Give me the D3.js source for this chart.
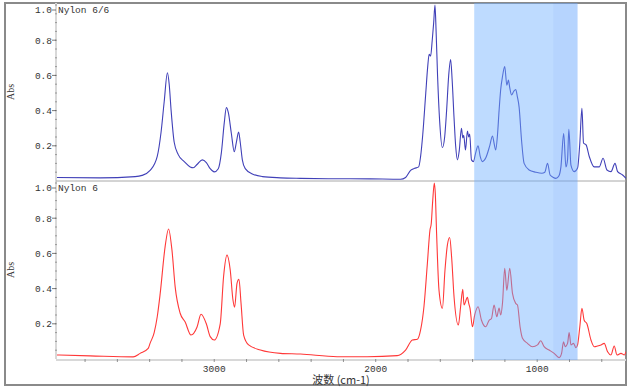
<!DOCTYPE html>
<html lang="en">
<head>
    <meta charset="UTF-8">
    <title>Nylon IR spectra</title>
    <script src="https://d3js.org/d3.v7.min.js"></script>
    <style>
        body { margin: 0; background: #fff; }
        text { font-family: "Liberation Mono", monospace; font-size: 9.5px; fill: #333; }
        .cjk { font-family: "Noto Sans CJK SC", sans-serif; font-size: 11px; }
    </style>
</head>
<body>
    <svg width="632" height="389" id="chart"></svg>
    <script>
        // Nylon 6/6 (top panel) - wavenumber (cm-1) and absorbance
        const nylon66Wave = [3974, 3707, 3490, 3447, 3397, 3353, 3329, 3310, 3290, 3279, 3267, 3248, 3223, 3186, 3149, 3130, 3105, 3074, 3049, 3025,
            3000, 2975, 2956, 2938, 2925, 2913, 2894, 2876, 2863, 2849, 2839, 2826, 2808, 2764, 2702, 2590, 2466, 2280, 2032, 1846,
            1815, 1784, 1759, 1734, 1722, 1709, 1690, 1678, 1669, 1660, 1650, 1641, 1633, 1626, 1617, 1604, 1587, 1573, 1561, 1548,
            1536, 1527, 1515, 1505, 1494, 1483, 1469, 1461, 1455, 1444, 1432, 1424, 1418, 1407, 1395, 1381, 1366, 1353, 1339, 1319,
            1294, 1277, 1266, 1257, 1246, 1236, 1226, 1215, 1201, 1188, 1178, 1170, 1159, 1145, 1133, 1123, 1112, 1097, 1081, 1050,
            1009, 971, 953, 936, 920, 903, 884, 865, 853, 836, 822, 812, 804, 791, 771, 750, 736, 723, 713, 697,
            677, 647, 616, 592, 568, 543, 518, 502, 471, 450];
        const nylon66Abs = [0.02, 0.018, 0.025, 0.032, 0.06, 0.14, 0.28, 0.45, 0.615, 0.55, 0.40, 0.22, 0.15, 0.11, 0.08, 0.075, 0.095, 0.12, 0.105, 0.07,
            0.052, 0.07, 0.16, 0.33, 0.417, 0.39, 0.27, 0.167, 0.22, 0.278, 0.22, 0.12, 0.07, 0.04, 0.025, 0.018, 0.015, 0.013, 0.012, 0.01,
            0.02, 0.06, 0.072, 0.08, 0.14, 0.26, 0.5, 0.65, 0.72, 0.71, 0.8, 0.9, 1.0, 0.85, 0.6, 0.34, 0.19, 0.25, 0.4, 0.6,
            0.69, 0.58, 0.36, 0.2, 0.12, 0.17, 0.30, 0.245, 0.26, 0.176, 0.284, 0.25, 0.267, 0.12, 0.11, 0.16, 0.20, 0.14, 0.11, 0.13,
            0.2, 0.256, 0.21, 0.176, 0.26, 0.40, 0.52, 0.593, 0.65, 0.545, 0.574, 0.53, 0.489, 0.51, 0.52, 0.48, 0.42, 0.233, 0.10, 0.0625,
            0.05, 0.044, 0.05, 0.10, 0.034, 0.022, 0.015, 0.03, 0.08, 0.27, 0.08, 0.12, 0.294, 0.09, 0.053, 0.074, 0.216, 0.413, 0.216, 0.205,
            0.138, 0.08, 0.08, 0.129, 0.0625, 0.053, 0.10, 0.053, 0.034, 0.015];

        // Nylon 6 (bottom panel)
        const nylon6Wave = [3974, 3769, 3502, 3459, 3409, 3397, 3372, 3353, 3335, 3304, 3283, 3262, 3242, 3211, 3180, 3144, 3107, 3082, 3049, 3025,
            3000, 2963, 2942, 2921, 2901, 2884, 2874, 2859, 2847, 2834, 2818, 2787, 2714, 2590, 2466, 2239, 2053, 1867, 1815, 1773,
            1742, 1722, 1701, 1680, 1664, 1656, 1647, 1637, 1631, 1623, 1608, 1587, 1571, 1556, 1542, 1530, 1515, 1488, 1474, 1461,
            1453, 1432, 1424, 1416, 1401, 1387, 1366, 1345, 1319, 1298, 1283, 1267, 1250, 1236, 1226, 1215, 1201, 1188, 1170, 1153,
            1133, 1122, 1106, 1091, 1060, 1029, 998, 978, 957, 926, 895, 864, 849, 837, 827, 812, 802, 791, 775, 760,
            750, 736, 723, 709, 692, 667, 647, 626, 605, 585, 564, 543, 523, 506, 481, 460, 450];
        const nylon6Abs = [0.023, 0.018, 0.012, 0.032, 0.06, 0.09, 0.15, 0.24, 0.37, 0.64, 0.739, 0.62, 0.41, 0.26, 0.21, 0.136, 0.18, 0.254, 0.2, 0.127,
            0.108, 0.2, 0.47, 0.59, 0.506, 0.335, 0.294, 0.43, 0.453, 0.316, 0.136, 0.08, 0.051, 0.032, 0.028, 0.013, 0.013, 0.019, 0.051, 0.108,
            0.112, 0.165, 0.30, 0.544, 0.733, 0.77, 0.9, 1.0, 0.94, 0.714, 0.39, 0.288, 0.506, 0.648, 0.69, 0.58, 0.354, 0.193, 0.30, 0.396,
            0.307, 0.35, 0.316, 0.288, 0.183, 0.25, 0.297, 0.22, 0.183, 0.22, 0.23, 0.307, 0.24, 0.29, 0.25, 0.316, 0.515, 0.39, 0.515, 0.373,
            0.316, 0.307, 0.183, 0.118, 0.089, 0.07, 0.08, 0.104, 0.07, 0.051, 0.032, 0.008, 0.032, 0.098, 0.07, 0.089, 0.15, 0.08, 0.089, 0.064,
            0.08, 0.183, 0.288, 0.22, 0.2, 0.108, 0.07, 0.074, 0.08, 0.089, 0.041, 0.023, 0.074, 0.023, 0.032, 0.023, 0.041];

        const panels = [
            { name: "Nylon 6/6", wave: nylon66Wave, abs: nylon66Abs, color: "#4040b8", top: 3, bottom: 181 },
            { name: "Nylon 6", wave: nylon6Wave, abs: nylon6Abs, color: "#ff3838", top: 181, bottom: 359 }
        ];

        const yTickValues = [0.2, 0.4, 0.6, 0.8, 1.0];
        const xTickValues = [3000, 2000, 1000];
        // highlighted wavenumber ranges
        const bandMain = [1390, 750];
        const bandOverlap = [900, 750];

        const svg = d3.select("#chart");
        const left = 56, right = 626;

        const x = d3.scaleLinear()
            .domain([3980, 450])
            .range([left, right]);

        // outer frame
        svg.append("rect")
            .attr("x", 5).attr("y", 3)
            .attr("width", 621).attr("height", 382)
            .attr("fill", "none")
            .attr("stroke", "#8a8a8a")
            .attr("stroke-width", 2);

        const line = d3.line()
            .x(d => x(d[0]))
            .curve(d3.curveMonotoneX);

        panels.forEach((p, i) => {
            const y = d3.scaleLinear()
                .domain([0, 1])
                .range([p.bottom, p.top + 2]);

            svg.append("clipPath").attr("id", "clip" + i)
                .append("rect")
                .attr("x", left).attr("y", p.top)
                .attr("width", right - left).attr("height", p.bottom - p.top);

            const pts = p.wave.map((w, k) => [w, p.abs[k]]);
            line.y(d => y(d[1]));

            svg.append("path")
                .datum(pts)
                .attr("clip-path", "url(#clip" + i + ")")
                .attr("fill", "none")
                .attr("stroke", p.color)
                .attr("stroke-width", 1.1)
                .attr("d", line);

            // y axis (light gray line with minor ticks)
            svg.append("line")
                .attr("x1", left).attr("x2", left)
                .attr("y1", p.top).attr("y2", p.bottom)
                .attr("stroke", "#d8d8d8").attr("stroke-width", 2);

            const minor = d3.range(0.05, 1.001, 0.05);
            svg.append("g").selectAll("line")
                .data(minor)
                .enter().append("line")
                .attr("x1", left - 1).attr("x2", left + 1)
                .attr("y1", d => y(d)).attr("y2", d => y(d))
                .attr("stroke", "#888").attr("stroke-width", 0.8);

            svg.append("g").selectAll("line")
                .data(yTickValues)
                .enter().append("line")
                .attr("x1", left - 4).attr("x2", left)
                .attr("y1", d => (d === 1 ? p.top + 7 : y(d)))
                .attr("y2", d => (d === 1 ? p.top + 7 : y(d)))
                .attr("stroke", "#555").attr("stroke-width", 0.8);

            svg.append("g").selectAll("text")
                .data(yTickValues)
                .enter().append("text")
                .attr("x", left - 4)
                .attr("y", d => (d === 1 ? p.top + 7 : y(d)))
                .attr("dy", "0.35em")
                .attr("text-anchor", "end")
                .text(d => d.toFixed(1));

            svg.append("text")
                .attr("x", left + 2)
                .attr("y", p.top + 7)
                .attr("dy", "0.35em")
                .text(p.name);

            svg.append("text")
                .attr("transform", `translate(14,${(p.top + p.bottom) / 2}) rotate(-90)`)
                .attr("text-anchor", "middle")
                .style("font-family", "Liberation Serif, serif")
                .style("font-size", "10px")
                .text("Abs");
        });

        // separator between panels
        svg.append("line")
            .attr("x1", left).attr("x2", right)
            .attr("y1", 181).attr("y2", 181)
            .attr("stroke", "#a8a8a8").attr("stroke-width", 1);

        // bottom x axis
        svg.append("line")
            .attr("x1", left).attr("x2", right)
            .attr("y1", 360).attr("y2", 360)
            .attr("stroke", "#d8d8d8").attr("stroke-width", 2);

        svg.append("g").selectAll("line")
            .data(d3.range(3800, 449, -200))
            .enter().append("line")
            .attr("x1", d => x(d)).attr("x2", d => x(d))
            .attr("y1", 359).attr("y2", 362)
            .attr("stroke", "#777").attr("stroke-width", 0.8);

        svg.append("g").selectAll("text")
            .data(xTickValues)
            .enter().append("text")
            .attr("x", d => x(d))
            .attr("y", 369)
            .attr("dy", "0.35em")
            .attr("text-anchor", "middle")
            .text(d => d);

        svg.append("text")
            .attr("class", "cjk")
            .attr("x", 341)
            .attr("y", 380)
            .attr("dy", "0.35em")
            .attr("text-anchor", "middle")
            .text("波数 (cm-1)");

        // highlighted bands, drawn over the spectra
        svg.append("rect")
            .attr("x", x(bandMain[0]))
            .attr("y", 3)
            .attr("width", x(bandMain[1]) - x(bandMain[0]))
            .attr("height", 357)
            .attr("fill", "rgb(110,175,255)")
            .attr("fill-opacity", 0.45);

        svg.append("rect")
            .attr("x", x(bandOverlap[0]))
            .attr("y", 3)
            .attr("width", x(bandOverlap[1]) - x(bandOverlap[0]))
            .attr("height", 357)
            .attr("fill", "rgb(60,100,230)")
            .attr("fill-opacity", 0.06);
    </script>
</body>
</html>
